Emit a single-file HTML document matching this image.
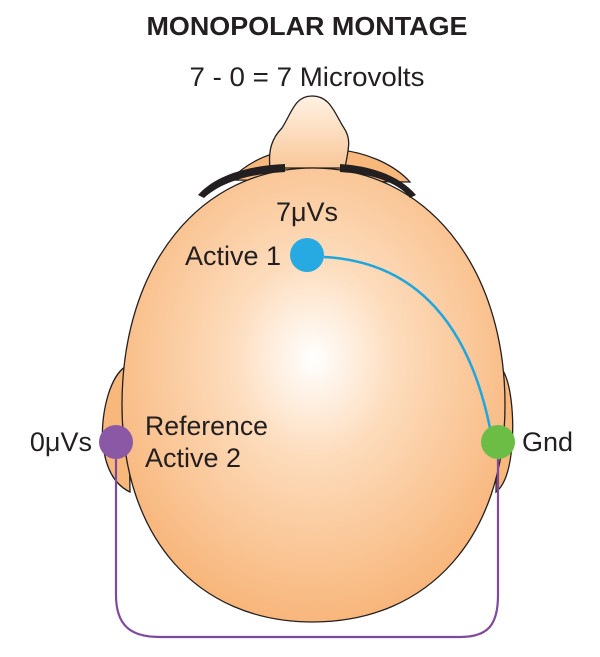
<!DOCTYPE html>
<html><head><style>
body{margin:0;background:#fff;}
svg{display:block;font-family:"Liberation Sans",Arial,sans-serif;}
</style></head><body>
<svg width="600" height="657" viewBox="0 0 600 657">
<defs>
<radialGradient id="g" cx="0.5" cy="0.42" r="0.62">
<stop offset="0" stop-color="#fff"/>
<stop offset="0.35" stop-color="#fddcbc"/>
<stop offset="1" stop-color="#f7b274"/>
</radialGradient>
<linearGradient id="n" x1="0" y1="0" x2="0" y2="1">
<stop offset="0" stop-color="#fff2e4"/>
<stop offset="1" stop-color="#f9c799"/>
</linearGradient>
</defs>
<text x="307" y="35" text-anchor="middle" font-size="26" font-weight="bold" fill="#231f20" textLength="321" lengthAdjust="spacingAndGlyphs">MONOPOLAR MONTAGE</text>
<text x="307" y="86" text-anchor="middle" font-size="27" fill="#231f20" textLength="235" lengthAdjust="spacingAndGlyphs">7 - 0 = 7 Microvolts</text>
<!-- ears -->
<path d="M128,365 C108,375 100,420 103,445 C106,470 115,485 130,492 Z" fill="#f8b87c" stroke="#231f20" stroke-width="1.3"/>
<path d="M498,365 C512,375 514,420 512,445 C510,470 505,485 496,492 Z" fill="#f8b87c" stroke="#231f20" stroke-width="1.3"/>
<!-- shoulders near nose -->
<path d="M230,180 C250,160 272,152 292,150 L340,150 C362,152 392,162 410,182 Z" fill="#f8b87c" stroke="#231f20" stroke-width="1.3"/>
<!-- nose -->
<path d="M270,168 C268,150 272,138 282,128 C292,112 295,96 312,96 C330,96 334,112 344,128 C352,140 348,150 345,168 Z" fill="url(#n)" stroke="#231f20" stroke-width="1.3"/>
<!-- head -->
<path d="M313,168 C425,168 505,265 505,405 C505,535 430,622 313,622 C195,622 122,535 122,405 C122,265 200,168 313,168 Z" fill="url(#g)" stroke="#231f20" stroke-width="1.3"/>
<!-- dark band -->
<path d="M198,195 C215,176 245,166 285,164 L285,172 C248,174 222,182 204,198 Z" fill="#231f20"/>
<path d="M416,195 C400,176 372,166 340,164 L340,172 C372,174 398,182 410,198 Z" fill="#231f20"/>
<!-- wires -->
<path d="M116,459 L116,595 C116,625 130,637 160,637 L460,637 C488,637 498,625 498,595 L498,459" fill="none" stroke="#7e4a9e" stroke-width="2.2"/>
<path d="M324,257 C420,262 470,330 490,428" fill="none" stroke="#1ea6df" stroke-width="2.5"/>
<!-- electrodes -->
<circle cx="307" cy="255" r="17" fill="#27aae1"/>
<circle cx="116" cy="442" r="17" fill="#8b58a5"/>
<circle cx="498" cy="442" r="17" fill="#6cbd45"/>
<text x="307" y="221" text-anchor="middle" font-size="27" fill="#231f20">7μVs</text>
<text x="281" y="265" text-anchor="end" font-size="27" fill="#231f20" textLength="96" lengthAdjust="spacingAndGlyphs">Active 1</text>
<text x="145" y="435" font-size="27" fill="#231f20" textLength="123" lengthAdjust="spacingAndGlyphs">Reference</text>
<text x="145" y="467" font-size="27" fill="#231f20" textLength="96" lengthAdjust="spacingAndGlyphs">Active 2</text>
<text x="92" y="451" text-anchor="end" font-size="27" fill="#231f20">0μVs</text>
<text x="522" y="451" font-size="27" fill="#231f20">Gnd</text>
</svg>
</body></html>
